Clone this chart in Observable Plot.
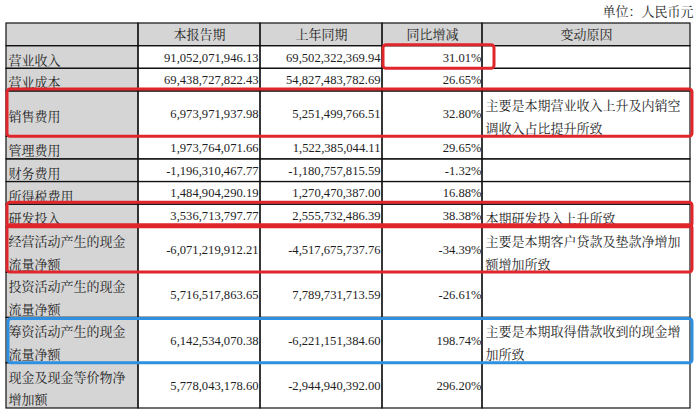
<!DOCTYPE html>
<html><head><meta charset="utf-8">
<script src="https://cdn.jsdelivr.net/npm/d3@7"></script>
<script src="https://cdn.jsdelivr.net/npm/@observablehq/plot@0.6"></script>
<style>html,body{margin:0;padding:0;background:#fff} svg{display:block}</style>
</head><body><div id="chart"></div>
<script>
// ---- data ----
const unitLabel = "单位：人民币元";
const headers = ["", "本报告期", "上年同期", "同比增减", "变动原因"];
const items = ["营业收入", "营业成本", "销售费用", "管理费用", "财务费用", "所得税费用", "研发投入",
  "经营活动产生的现金流量净额", "投资活动产生的现金流量净额", "筹资活动产生的现金流量净额", "现金及现金等价物净增加额"];
const currentPeriod = [91052071946.13, 69438727822.43, 6973971937.98, 1973764071.66, -1196310467.77, 1484904290.19,
  3536713797.77, -6071219912.21, 5716517863.65, 6142534070.38, 5778043178.60];
const priorPeriod = [69502322369.94, 54827483782.69, 5251499766.51, 1522385044.11, -1180757815.59, 1270470387.00,
  2555732486.39, -4517675737.76, 7789731713.59, -6221151384.60, -2944940392.00];
const yoyChange = [31.01, 26.65, 32.80, 29.65, -1.32, 16.88, 38.38, -34.39, -26.61, 198.74, 296.20];
const reasons = ["", "", "主要是本期营业收入上升及内销空调收入占比提升所致", "", "", "", "本期研发投入上升所致",
  "主要是本期客户贷款及垫款净增加额增加所致", "", "主要是本期取得借款收到的现金增加所致", ""];
const redRows = ["销售费用", "研发投入", "经营活动产生的现金流量净额"];
const redCells = ["营业收入"];          // highlighted 同比增减 cell
const blueRows = ["筹资活动产生的现金流量净额"];

// ---- layout ----
const loc = d3.formatLocale({decimal: ".", thousands: ",", grouping: [3], currency: ["", ""], minus: "-"});
const fmtAmount = loc.format(",.2f");
const fmtPct = v => loc.format(".2f")(v) + "%";
const wrap = (s, n) => { const out = []; for (let i = 0; i < s.length; i += n) out.push(s.slice(i, i + n)); return out.join("\n"); };
const LABEL_CHARS = 9, REASON_CHARS = 15;
const colEdges = [6, 138, 260, 382, 482, 690];
const TOP = 23, BOTTOM = 408;

let cursor = 1;
const rows = items.map((name, i) => {
  const label = wrap(name, LABEL_CHARS);
  const reason = wrap(reasons[i], REASON_CHARS);
  const span = Math.max(label.split("\n").length, reason ? reason.split("\n").length : 1);
  const r = {name, label, reason, current: fmtAmount(currentPeriod[i]), prior: fmtAmount(priorPeriod[i]),
    change: fmtPct(yoyChange[i]), y1: cursor, y2: cursor + span, ym: cursor + span / 2};
  cursor += span;
  return r;
});
const totalUnits = cursor;
const unitPx = (BOTTOM - TOP) / totalUnits;

const cells = [];
headers.forEach((h, c) => cells.push({x1: colEdges[c], x2: colEdges[c + 1], y1: 0, y2: 1, gray: true}));
rows.forEach(r => headers.forEach((h, c) => cells.push({x1: colEdges[c], x2: colEdges[c + 1], y1: r.y1, y2: r.y2, gray: c === 0})));
const headerCells = headers.map((h, c) => ({text: h, x: (colEdges[c] + colEdges[c + 1]) / 2, y: 0.5}));

const byName = n => rows.find(r => r.name === n);
const red = redRows.map(byName).map(r => ({x1: colEdges[0] + 1, x2: colEdges[5] + 2, y1: r.y1, y2: r.y2}));
const redCell = redCells.map(byName).map(r => ({x1: colEdges[3] + 1, x2: colEdges[4] + 12, y1: r.y1, y2: r.y2}));
const blue = blueRows.map(byName).map(r => ({x1: colEdges[0] + 2, x2: colEdges[5] + 2, y1: r.y1, y2: r.y2}));

const ink = "#1e1e1e";
const lh = unitPx / 13;

const chart = Plot.plot({
  width: 700, height: 415,
  marginLeft: 0, marginRight: 0, marginTop: TOP, marginBottom: 415 - BOTTOM,
  x: {domain: [0, 700], range: [0, 700], axis: null},
  y: {domain: [0, totalUnits], range: [TOP, BOTTOM], axis: null},
  style: {fontFamily: '"Liberation Serif", "Noto Serif CJK SC", "Noto Sans CJK SC", serif', background: "#fff", color: ink},
  marks: [
    Plot.rect(cells.filter(d => d.gray), {x1: "x1", x2: "x2", y1: "y1", y2: "y2", fill: "#d5d5d5"}),
    Plot.rect(cells, {x1: "x1", x2: "x2", y1: "y1", y2: "y2", fill: "none", stroke: "#111", strokeWidth: 1.2}),
    Plot.text(headerCells, {x: "x", y: "y", text: "text", fontSize: 13, fill: ink}),
    Plot.text(rows, {x: colEdges[0] + 2, y: "ym", text: "label", textAnchor: "start", lineAnchor: "middle", lineHeight: lh, fontSize: 13, fill: ink}),
    Plot.text(rows, {x: colEdges[2] - 2, y: "ym", text: "current", textAnchor: "end", fontSize: 12.6, fill: ink}),
    Plot.text(rows, {x: colEdges[3] - 2, y: "ym", text: "prior", textAnchor: "end", fontSize: 12.6, fill: ink}),
    Plot.text(rows, {x: colEdges[4] - 1, y: "ym", text: "change", textAnchor: "end", fontSize: 12.6, fill: ink}),
    Plot.text(rows, {x: colEdges[4] + 3, y: "ym", text: "reason", textAnchor: "start", lineAnchor: "middle", lineHeight: lh, fontSize: 13, fill: ink}),
    Plot.rect(red, {x1: "x1", x2: "x2", y1: "y1", y2: "y2", insetTop: -2, fill: "none", stroke: "#e0262b", strokeWidth: 3, rx: 3}),
    Plot.rect(redCell, {x1: "x1", x2: "x2", y1: "y1", y2: "y2", insetTop: -1, fill: "none", stroke: "#e0262b", strokeWidth: 3, rx: 3}),
    Plot.rect(blue, {x1: "x1", x2: "x2", y1: "y1", y2: "y2", insetTop: 1, fill: "none", stroke: "#2f8fe0", strokeWidth: 3, rx: 3}),
    Plot.text([unitLabel], {x: 693, y: -0.5, text: d => d, textAnchor: "end", fontSize: 13, fill: ink})
  ]
});
document.getElementById("chart").appendChild(chart);
</script>
</body></html>
